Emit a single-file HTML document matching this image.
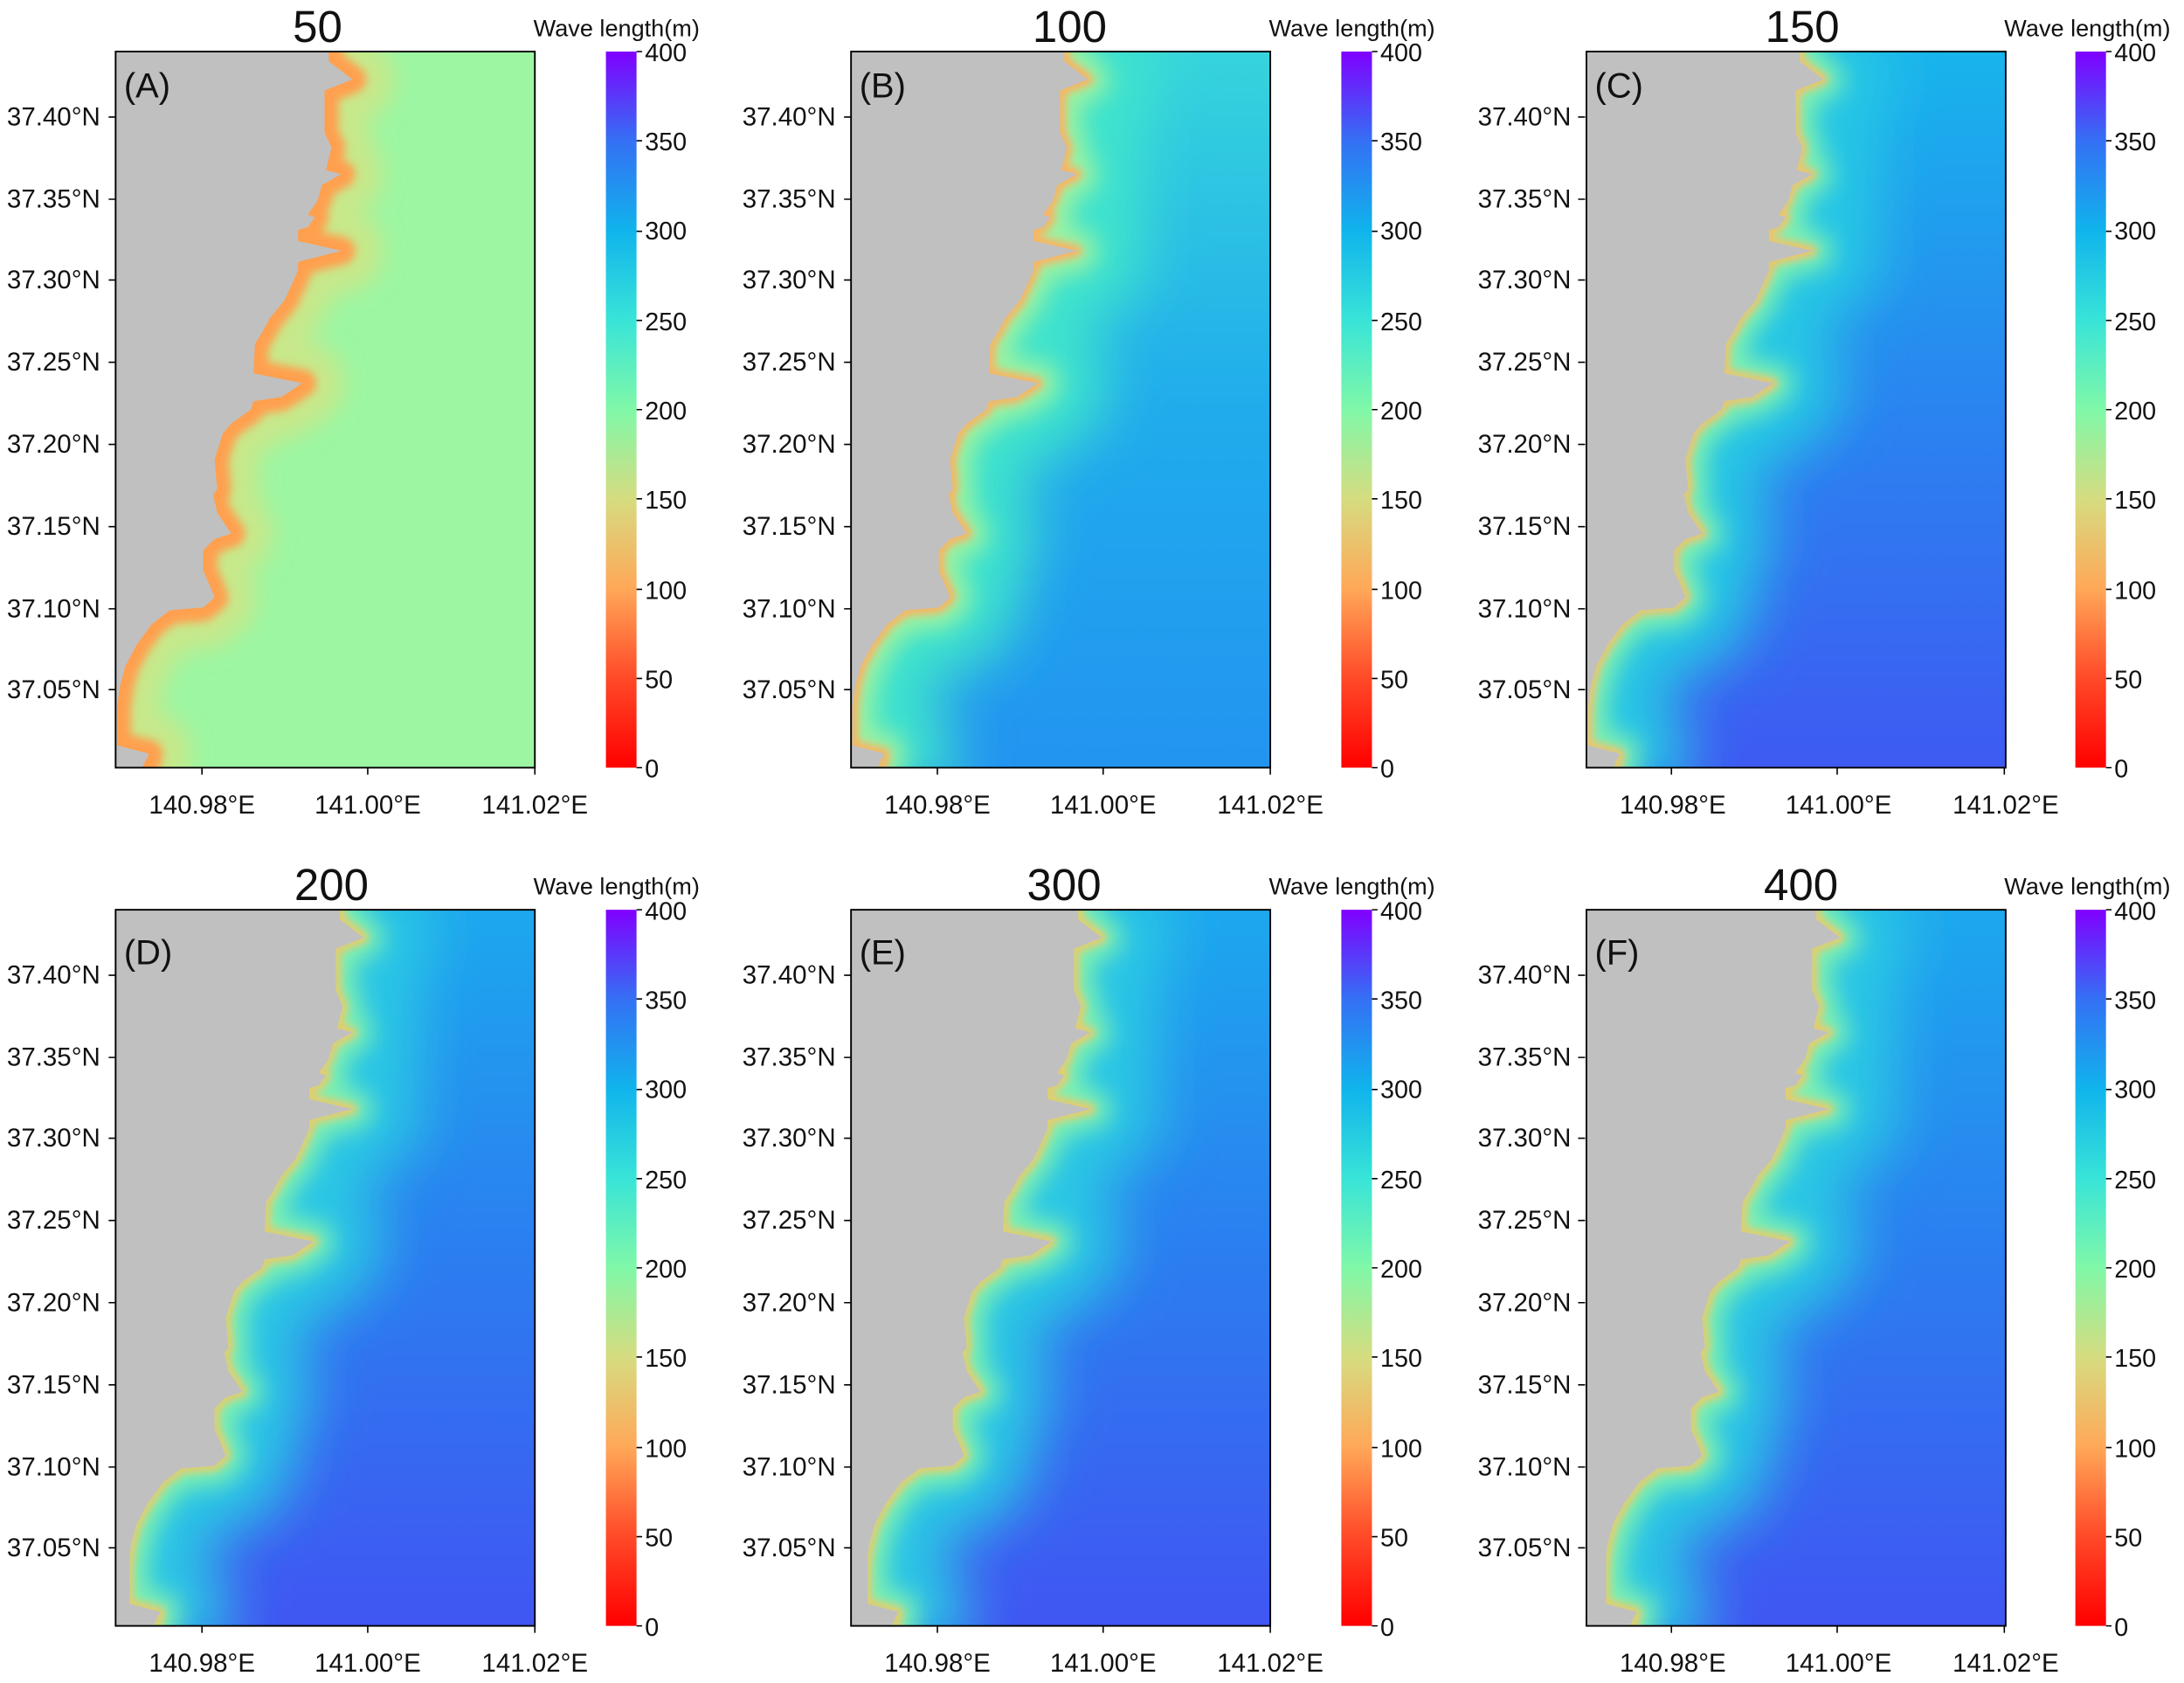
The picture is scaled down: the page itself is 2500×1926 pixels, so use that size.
<!DOCTYPE html>
<html><head><meta charset="utf-8"><style>html,body{margin:0;padding:0;background:#fff}svg{display:block}text{font-family:"Liberation Sans",sans-serif;fill:#111}</style></head><body>
<svg width="2500" height="1926" viewBox="0 0 1568 1208" xmlns="http://www.w3.org/2000/svg">
<defs>
<clipPath id="cp"><rect x="0" y="0" width="301" height="514"/></clipPath>
<filter id="b3" x="-20%" y="-20%" width="140%" height="140%"><feGaussianBlur stdDeviation="3"/></filter>
<filter id="b8" x="-30%" y="-30%" width="160%" height="160%"><feGaussianBlur stdDeviation="8"/></filter>
<filter id="b20" x="-50%" y="-50%" width="200%" height="200%"><feGaussianBlur stdDeviation="20"/></filter>
<path id="land" d="M153,0 L153,7 170,20 150,28 150,58 155,69 151,85 162,88 148,96 145,107 138,117 143,119 138,126 131,128 131,136 162,143 131,151 131,157 128,164 121,179 111,191 105,202 100,210 99,231 134,238 119,248 99,251 97,257 83,267 77,274 71,293 73,314 70,318 73,331 83,346 71,350 63,358 63,373 68,384 71,392 63,399 39,401 26,411 15,426 7,441 3,456 1,471 1,498 24,504 19,514 L0,514 L0,0 Z"/>
<path id="coast" fill="none" stroke-linejoin="round" d="M153,-10 L153,7 170,20 150,28 150,58 155,69 151,85 162,88 148,96 145,107 138,117 143,119 138,126 131,128 131,136 162,143 131,151 131,157 128,164 121,179 111,191 105,202 100,210 99,231 134,238 119,248 99,251 97,257 83,267 77,274 71,293 73,314 70,318 73,331 83,346 71,350 63,358 63,373 68,384 71,392 63,399 39,401 26,411 15,426 7,441 3,456 1,471 1,498 24,504 19,524"/>
<linearGradient id="cb" x1="0" y1="1" x2="0" y2="0">
<stop offset="0" stop-color="#ff0000"/><stop offset="0.125" stop-color="#ff4a28"/><stop offset="0.25" stop-color="#ffa858"/><stop offset="0.375" stop-color="#d6dc80"/><stop offset="0.5" stop-color="#80f8a8"/><stop offset="0.625" stop-color="#38e4d8"/><stop offset="0.75" stop-color="#10b4ec"/><stop offset="0.875" stop-color="#3470f4"/><stop offset="1" stop-color="#8000ff"/>
</linearGradient>
<linearGradient id="gB" x1="0" y1="0" x2="0" y2="1"><stop offset="0" stop-color="#36d4dc"/><stop offset="0.5" stop-color="#20acec"/><stop offset="1" stop-color="#2294f0"/></linearGradient>
<linearGradient id="gC" x1="0" y1="0" x2="0" y2="1"><stop offset="0" stop-color="#18b4ec"/><stop offset="0.5" stop-color="#2a84f0"/><stop offset="1" stop-color="#3e5af2"/></linearGradient>
<linearGradient id="gD" x1="0" y1="0" x2="0" y2="1"><stop offset="0" stop-color="#1ca8ee"/><stop offset="0.5" stop-color="#2c7cf0"/><stop offset="1" stop-color="#4056f2"/></linearGradient>
</defs>

<g transform="translate(83,37)">
<g clip-path="url(#cp)">
<rect width="301" height="514" fill="#9cf6a2"/>
<use href="#coast" stroke="#c8e88a" stroke-width="60" filter="url(#b8)"/>
<use href="#coast" stroke="#ffa050" stroke-width="20" filter="url(#b3)"/>
<use href="#land" fill="#c0c0c0"/>
</g>
<rect width="301" height="514" fill="none" stroke="#000" stroke-width="1.2"/>
</g>
<g transform="translate(611,37)">
<g clip-path="url(#cp)">
<rect width="301" height="514" fill="url(#gB)"/>
<use href="#coast" stroke="#40e4cc" stroke-width="100" filter="url(#b20)"/>
<use href="#coast" stroke="#9cf2a0" stroke-width="30" filter="url(#b8)"/>
<use href="#coast" stroke="#ffb060" stroke-width="8" filter="url(#b3)"/>
<use href="#land" fill="#c0c0c0"/>
</g>
<rect width="301" height="514" fill="none" stroke="#000" stroke-width="1.2"/>
</g>
<g transform="translate(1139,37)">
<g clip-path="url(#cp)">
<rect width="301" height="514" fill="url(#gC)"/>
<use href="#coast" stroke="#28c8e4" stroke-width="100" filter="url(#b20)"/>
<use href="#coast" stroke="#80f0b0" stroke-width="28" filter="url(#b8)"/>
<use href="#coast" stroke="#f8c068" stroke-width="7" filter="url(#b3)"/>
<use href="#land" fill="#c0c0c0"/>
</g>
<rect width="301" height="514" fill="none" stroke="#000" stroke-width="1.2"/>
</g>
<g transform="translate(83,653)">
<g clip-path="url(#cp)">
<rect width="301" height="514" fill="url(#gD)"/>
<use href="#coast" transform="translate(8,0)" stroke="#2cc8e4" stroke-width="100" filter="url(#b20)"/>
<use href="#coast" transform="translate(8,0)" stroke="#80f0b0" stroke-width="28" filter="url(#b8)"/>
<use href="#coast" transform="translate(8,0)" stroke="#f0c868" stroke-width="7" filter="url(#b3)"/>
<use href="#land" transform="translate(8,0)" fill="#c0c0c0"/>
<rect width="10" height="514" fill="#c0c0c0"/>
</g>
<rect width="301" height="514" fill="none" stroke="#000" stroke-width="1.2"/>
</g>
<g transform="translate(611,653)">
<g clip-path="url(#cp)">
<rect width="301" height="514" fill="url(#gD)"/>
<use href="#coast" transform="translate(10,0)" stroke="#2cc8e4" stroke-width="100" filter="url(#b20)"/>
<use href="#coast" transform="translate(10,0)" stroke="#80f0b0" stroke-width="28" filter="url(#b8)"/>
<use href="#coast" transform="translate(10,0)" stroke="#f0c868" stroke-width="7" filter="url(#b3)"/>
<use href="#land" transform="translate(10,0)" fill="#c0c0c0"/>
<rect width="12" height="514" fill="#c0c0c0"/>
</g>
<rect width="301" height="514" fill="none" stroke="#000" stroke-width="1.2"/>
</g>
<g transform="translate(1139,653)">
<g clip-path="url(#cp)">
<rect width="301" height="514" fill="url(#gD)"/>
<use href="#coast" transform="translate(12,0)" stroke="#2cc8e4" stroke-width="100" filter="url(#b20)"/>
<use href="#coast" transform="translate(12,0)" stroke="#80f0b0" stroke-width="28" filter="url(#b8)"/>
<use href="#coast" transform="translate(12,0)" stroke="#f0c868" stroke-width="7" filter="url(#b3)"/>
<use href="#land" transform="translate(12,0)" fill="#c0c0c0"/>
<rect width="14" height="514" fill="#c0c0c0"/>
</g>
<rect width="301" height="514" fill="none" stroke="#000" stroke-width="1.2"/>
</g>

<g fill="url(#cb)">
<rect x="435" y="37" width="22" height="514"/><rect x="963" y="37" width="22" height="514"/><rect x="1490" y="37" width="22" height="514"/>
<rect x="435" y="653" width="22" height="514"/><rect x="963" y="653" width="22" height="514"/><rect x="1490" y="653" width="22" height="514"/>
</g>

<g font-size="32" text-anchor="middle">
<text x="228" y="30">50</text><text x="768" y="30">100</text><text x="1294" y="30">150</text>
<text x="238" y="646">200</text><text x="764" y="646">300</text><text x="1293" y="646">400</text>
</g>
<g font-size="17">
<text x="383" y="26">Wave length(m)</text><text x="911" y="26">Wave length(m)</text><text x="1439" y="26">Wave length(m)</text>
<text x="383" y="642">Wave length(m)</text><text x="911" y="642">Wave length(m)</text><text x="1439" y="642">Wave length(m)</text>
</g>
<g font-size="25">
<text x="89" y="70">(A)</text><text x="617" y="70">(B)</text><text x="1145" y="70">(C)</text>
<text x="89" y="692">(D)</text><text x="617" y="692">(E)</text><text x="1145" y="692">(F)</text>
</g>

<g font-size="18.5" text-anchor="end">
<g><text x="72" y="90">37.40°N</text><text x="72" y="149">37.35°N</text><text x="72" y="207">37.30°N</text><text x="72" y="266">37.25°N</text><text x="72" y="325">37.20°N</text><text x="72" y="384">37.15°N</text><text x="72" y="443">37.10°N</text><text x="72" y="501">37.05°N</text></g>
<g transform="translate(528,0)"><text x="72" y="90">37.40°N</text><text x="72" y="149">37.35°N</text><text x="72" y="207">37.30°N</text><text x="72" y="266">37.25°N</text><text x="72" y="325">37.20°N</text><text x="72" y="384">37.15°N</text><text x="72" y="443">37.10°N</text><text x="72" y="501">37.05°N</text></g>
<g transform="translate(1056,0)"><text x="72" y="90">37.40°N</text><text x="72" y="149">37.35°N</text><text x="72" y="207">37.30°N</text><text x="72" y="266">37.25°N</text><text x="72" y="325">37.20°N</text><text x="72" y="384">37.15°N</text><text x="72" y="443">37.10°N</text><text x="72" y="501">37.05°N</text></g>
<g transform="translate(0,616)"><text x="72" y="90">37.40°N</text><text x="72" y="149">37.35°N</text><text x="72" y="207">37.30°N</text><text x="72" y="266">37.25°N</text><text x="72" y="325">37.20°N</text><text x="72" y="384">37.15°N</text><text x="72" y="443">37.10°N</text><text x="72" y="501">37.05°N</text></g>
<g transform="translate(528,616)"><text x="72" y="90">37.40°N</text><text x="72" y="149">37.35°N</text><text x="72" y="207">37.30°N</text><text x="72" y="266">37.25°N</text><text x="72" y="325">37.20°N</text><text x="72" y="384">37.15°N</text><text x="72" y="443">37.10°N</text><text x="72" y="501">37.05°N</text></g>
<g transform="translate(1056,616)"><text x="72" y="90">37.40°N</text><text x="72" y="149">37.35°N</text><text x="72" y="207">37.30°N</text><text x="72" y="266">37.25°N</text><text x="72" y="325">37.20°N</text><text x="72" y="384">37.15°N</text><text x="72" y="443">37.10°N</text><text x="72" y="501">37.05°N</text></g>
</g>
<g stroke="#000" stroke-width="1">
<g id="tk"><path d="M78,84h5M78,143h5M78,201h5M78,260h5M78,319h5M78,378h5M78,437h5M78,495h5M145,551v5M264,551v5M384,551v5"/>
<path d="M457,37h4M457,101h4M457,166h4M457,230h4M457,294h4M457,358h4M457,423h4M457,487h4M457,551h4"/></g>
<use href="#tk" transform="translate(528,0)"/><use href="#tk" transform="translate(1055,0)"/>
<use href="#tk" transform="translate(0,616)"/><use href="#tk" transform="translate(528,616)"/><use href="#tk" transform="translate(1055,616)"/>
</g>
<g font-size="18.5" text-anchor="middle">
<text x="145" y="584">140.98°E</text><text x="264" y="584">141.00°E</text><text x="384" y="584">141.02°E</text>
<text x="673" y="584">140.98°E</text><text x="792" y="584">141.00°E</text><text x="912" y="584">141.02°E</text>
<text x="1201" y="584">140.98°E</text><text x="1320" y="584">141.00°E</text><text x="1440" y="584">141.02°E</text>
<text x="145" y="1200">140.98°E</text><text x="264" y="1200">141.00°E</text><text x="384" y="1200">141.02°E</text>
<text x="673" y="1200">140.98°E</text><text x="792" y="1200">141.00°E</text><text x="912" y="1200">141.02°E</text>
<text x="1201" y="1200">140.98°E</text><text x="1320" y="1200">141.00°E</text><text x="1440" y="1200">141.02°E</text>
</g>
<g font-size="18">
<g><text x="463" y="44">400</text><text x="463" y="108">350</text><text x="463" y="172">300</text><text x="463" y="237">250</text><text x="463" y="301">200</text><text x="463" y="365">150</text><text x="463" y="430">100</text><text x="463" y="494">50</text><text x="463" y="558">0</text></g>
<g transform="translate(528,0)"><text x="463" y="44">400</text><text x="463" y="108">350</text><text x="463" y="172">300</text><text x="463" y="237">250</text><text x="463" y="301">200</text><text x="463" y="365">150</text><text x="463" y="430">100</text><text x="463" y="494">50</text><text x="463" y="558">0</text></g>
<g transform="translate(1055,0)"><text x="463" y="44">400</text><text x="463" y="108">350</text><text x="463" y="172">300</text><text x="463" y="237">250</text><text x="463" y="301">200</text><text x="463" y="365">150</text><text x="463" y="430">100</text><text x="463" y="494">50</text><text x="463" y="558">0</text></g>
<g transform="translate(0,616)"><text x="463" y="44">400</text><text x="463" y="108">350</text><text x="463" y="172">300</text><text x="463" y="237">250</text><text x="463" y="301">200</text><text x="463" y="365">150</text><text x="463" y="430">100</text><text x="463" y="494">50</text><text x="463" y="558">0</text></g>
<g transform="translate(528,616)"><text x="463" y="44">400</text><text x="463" y="108">350</text><text x="463" y="172">300</text><text x="463" y="237">250</text><text x="463" y="301">200</text><text x="463" y="365">150</text><text x="463" y="430">100</text><text x="463" y="494">50</text><text x="463" y="558">0</text></g>
<g transform="translate(1055,616)"><text x="463" y="44">400</text><text x="463" y="108">350</text><text x="463" y="172">300</text><text x="463" y="237">250</text><text x="463" y="301">200</text><text x="463" y="365">150</text><text x="463" y="430">100</text><text x="463" y="494">50</text><text x="463" y="558">0</text></g>
</g>
</svg>
</body></html>
